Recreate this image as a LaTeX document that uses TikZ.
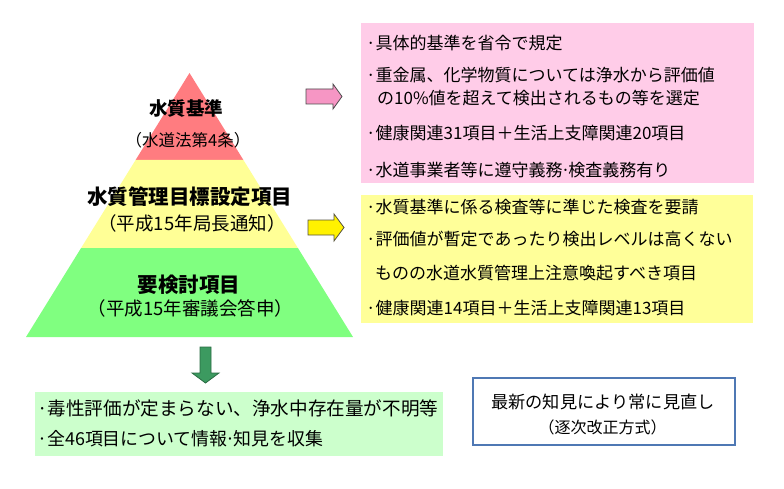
\documentclass[tikz,border=0pt]{standalone}
\usepackage{fontspec}
\setmainfont{Noto Sans CJK JP}
\definecolor{pyrred}{RGB}{255,124,128}
\definecolor{pyryel}{RGB}{255,255,150}
\definecolor{pyrgrn}{RGB}{128,255,128}
\definecolor{boxpink}{RGB}{255,204,232}
\definecolor{boxyel}{RGB}{255,255,153}
\definecolor{boxgrn}{RGB}{204,255,204}
\definecolor{arrpink}{RGB}{246,150,196}
\definecolor{arrgrn}{RGB}{60,154,96}
\definecolor{frameblue}{RGB}{79,120,180}
\begin{document}
\begin{tikzpicture}[x=1pt,y=-1pt,
  boxtxt/.style={font=\fontsize{17}{20}\selectfont, anchor=west, inner sep=0},
  grntxt/.style={font=\fontsize{#1}{22}\selectfont, anchor=west, inner sep=0},
  ttl/.style={font=\bfseries\fontsize{#1}{22}\selectfont, inner sep=0},
  sub/.style={font=\fontsize{#1}{22}\selectfont, inner sep=0},
  wtxt/.style={font=\fontsize{#1}{20}\selectfont, inner sep=0}]
\useasboundingbox (0,0) rectangle (784,489);
\fill[white] (0,0) rectangle (784,489);
% pyramid
\fill[pyrred] (189.5,73) -- (243.4,160) -- (135.6,160) -- cycle;
\fill[pyryel] (135.6,160) -- (243.4,160) -- (297.9,248) -- (81.1,248) -- cycle;
\fill[pyrgrn] (81.1,248) -- (297.9,248) -- (353,337) -- (26,337) -- cycle;
\node[ttl=18.5] (t1) at (186,108) {水質基準};
\node[sub=16.5] (s1) at (188,140) {（水道法第4条）};
\node[ttl=20.5] (t2) at (189.5,197) {水質管理目標設定項目};
\node[sub=18.5] (s2) at (192,223) {（平成15年局長通知）};
\node[ttl=20.5] (t3) at (189,285) {要検討項目};
\node[sub=18.5] (s3) at (190.5,308) {（平成15年審議会答申）};
% arrows
\draw[fill=arrpink, draw=black!70, line width=0.8pt, line join=miter]
  (306,89) -- (333,89) -- (333,84) -- (342,96.5) -- (333,109) -- (333,104) -- (306,104) -- cycle;
\draw[fill=yellow, draw=black!60!yellow!60!black, line width=0.8pt, line join=miter]
  (308,220) -- (334,220) -- (334,214) -- (344,227.5) -- (334,241) -- (334,235) -- (308,235) -- cycle;
\draw[fill=arrgrn, draw=arrgrn!70!black, line width=0.8pt, line join=miter]
  (200,347) -- (211,347) -- (211,373) -- (219,373) -- (205.5,383) -- (192,373) -- (200,373) -- cycle;
% pink box
\fill[boxpink] (361,23) rectangle (754,183);
\node[boxtxt] (p1) at (366,43) {·具体的基準を省令で規定};
\node[boxtxt] (p2) at (366,75) {·重金属、化学物質については浄水から評価値};
\node[boxtxt] (p2b) at (377,98) {の10\%値を超えて検出されるもの等を選定};
\node[boxtxt] (p3) at (366,133) {·健康関連31項目＋生活上支障関連20項目};
\node[boxtxt] (p4) at (366,170) {·水道事業者等に遵守義務\kern-2pt·\kern-2pt 検査義務有り};
% yellow box
\fill[boxyel] (361,195) rectangle (753,323);
\node[boxtxt] (y1) at (366,207) {·水質基準に係る検査等に準じた検査を要請};
\node[boxtxt] (y2) at (366,239) {·評価値が暫定であったり検出レベルは高くない};
\node[boxtxt] (y2b) at (375,273) {ものの水道水質管理上注意喚起すべき項目};
\node[boxtxt] (y3) at (366,308) {·健康関連14項目＋生活上支障関連13項目};
% green box
\fill[boxgrn] (35,392) rectangle (443,456);
\node[grntxt=18.6] (g1) at (37,408) {·毒性評価が定まらない、浄水中存在量が不明等};
\node[grntxt=17.9] (g2) at (37,439) {·全46項目について情報\kern-2pt·\kern-2pt 知見を収集};
% white box
\draw[frameblue, line width=1.5pt, fill=white] (473,378) rectangle (735,445);
\node[wtxt=17.2] (w1) at (603,402) {最新の知見により常に見直し};
\node[wtxt=16] (w2) at (602.5,427) {（逐次改正方式）};
\end{tikzpicture}
\end{document}
